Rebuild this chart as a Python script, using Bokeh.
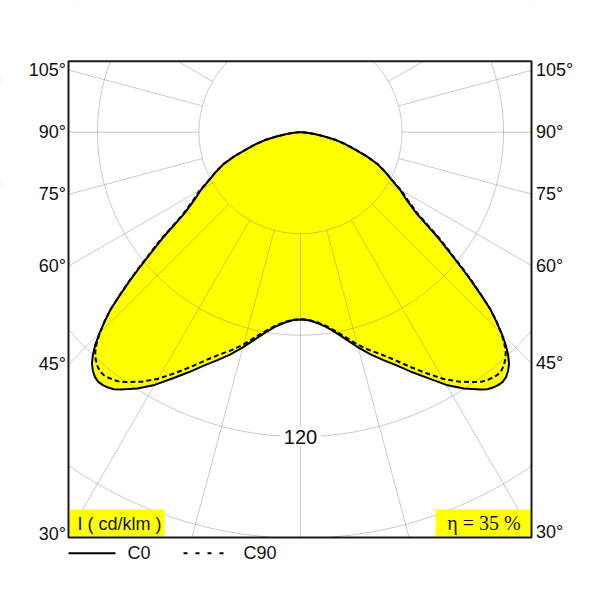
import numpy as np
from bokeh.plotting import figure
from bokeh.models import Range1d
from bokeh.core.properties import value
from bokeh.embed import file_html
from bokeh.resources import INLINE

# ---------------- data ----------------
gamma_deg = [0, 2.5, 5, 7.5, 10, 12.5, 15, 17.5, 20, 22.5, 25, 27.5, 30, 32.5,
             35, 36, 37, 38, 39, 40, 41, 42, 43, 44, 45, 46, 47, 48, 49, 50,
             52.5, 55, 57.5, 60, 62.5, 65, 67.5, 70, 72.5, 75, 77.5, 80, 82.5,
             85, 87.5, 90]
c0_cdklm = [73.8, 74.2, 75.5, 77.4, 80.2, 83.7, 87.8, 91.8, 95.6, 99.6, 104.4,
            109.4, 115.0, 119.8, 123.8, 125.2, 126.0, 126.5, 126.6, 126.0, 124.7,
            122.8, 120.0, 116.4, 112.0, 107.2, 102.2, 95.5, 89.0, 82.5,
            68.5, 55.8, 49.5, 45.2, 40.3, 36.6, 32.8, 27.8, 22.4, 18.4, 14.3,
            9.3, 5.5, 2.6, 0.8, 0.0]
c90_cdklm = [73.6, 74.0, 75.2, 77.0, 79.6, 82.8, 86.6, 90.0, 93.2, 97.2, 102.0,
             107.0, 112.2, 116.6, 120.2, 121.5, 122.3, 122.8, 123.2, 123.0, 122.0,
             120.6, 118.6, 115.6, 111.8, 107.4, 102.3, 95.8, 89.5, 83.2,
             69.5, 56.8, 50.3, 45.8, 40.6, 36.8, 32.9, 27.8, 22.4, 18.4, 14.3,
             9.3, 5.5, 2.6, 0.8, 0.0]
ring_values = [40, 80, 120, 160]
ring_label_value = 120
ray_step_deg = 15
side_angles = [105, 90, 75, 60, 45, 30]
side_labels = ["105°", "90°", "75°", "60°", "45°", "30°"]
series_names = ["C0", "C90"]
unit_text = "I ( cd/klm )"
eff_text = "η = 35 %"

# ---------------- layout (pixel geometry of the page) ----------------
W, H = 600, 599
S = 2.5375           # px per cd/klm
OX, OY = 300.0, 131.7  # pole position in px


def X(px):
    return (px - OX) / S


def Y(py):
    return (OY - py) / S


p = figure(width=W, height=H, output_backend="svg", toolbar_location=None,
           x_range=Range1d(X(0), X(W)), y_range=Range1d(Y(H), Y(0)),
           min_border=0, x_axis_location=None, y_axis_location=None)
p.outline_line_color = None
p.grid.visible = False
p.background_fill_color = "white"
p.border_fill_color = "white"

bx0, bx1, by0, by1 = X(68), X(531), Y(537), Y(60.7)

g = np.radians(np.array(gamma_deg, dtype=float))
i0 = np.array(c0_cdklm, dtype=float)
i90 = np.array(c90_cdklm, dtype=float)


def full_curve(I):
    # left half (C180 side) from 90 down to 0, then right half 0 -> 90
    xl = -I[::-1] * np.sin(g[::-1])
    yl = -I[::-1] * np.cos(g[::-1])
    xr = I[1:] * np.sin(g[1:])
    yr = -I[1:] * np.cos(g[1:])
    return np.concatenate([xl, xr]), np.concatenate([yl, yr])


x0c, y0c = full_curve(i0)
x90c, y90c = full_curve(i90)

# yellow light distribution
p.patch(x0c, y0c, fill_color="#ffff00", line_color=None)

# polar grid
grid_col = "#808080"
grid_alpha = 0.42
t = np.linspace(0, 2 * np.pi, 400)
for r in ring_values:
    p.line(r * np.cos(t), r * np.sin(t), line_color=grid_col, line_alpha=grid_alpha, line_width=1)
ray = np.radians(np.arange(0, 360, ray_step_deg))
rin, rout = ring_values[0], 600.0
p.segment(x0=rin * np.sin(ray), y0=-rin * np.cos(ray), x1=rout * np.sin(ray), y1=-rout * np.cos(ray),
          line_color=grid_col, line_alpha=grid_alpha, line_width=1)

# curves
p.line(x0c, y0c, line_color="black", line_width=2, line_join="round")
p.line(x90c, y90c, line_color="black", line_width=2, line_dash="5 3", line_join="round")

# mask outside the box
big = 1000
p.quad(left=[-big, bx1, bx0, bx0], right=[bx0, big, bx1, bx1],
       bottom=[-big, -big, by1, -big], top=[big, big, big, by0],
       fill_color="white", line_color=None)

# ring label
p.quad(left=[X(280)], right=[X(320)], bottom=[Y(446)], top=[Y(426)],
       fill_color="white", line_color=None)
p.text(x=[0], y=[-ring_label_value], text=[str(ring_label_value)],
       text_align="center", text_baseline="middle",
       text_font=value("Liberation Sans"), text_font_size=value("20px"), text_color="#111111")

# info boxes
p.quad(left=[X(69), X(435)], right=[X(164), X(530)], bottom=[Y(536), Y(536)], top=[Y(509), Y(509)],
       fill_color="#ffff00", line_color=None)
p.text(x=[X(77)], y=[Y(523)], text=[unit_text], text_align="left", text_baseline="middle",
       text_font=value("Liberation Sans"), text_font_size=value("18px"), text_color="#111111")
p.text(x=[X(483.5)], y=[Y(522)], text=[eff_text], text_align="center", text_baseline="middle",
       text_font=value("Liberation Serif"), text_font_size=value("20px"), text_color="#111111")

# frame
p.quad(left=[bx0], right=[bx1], bottom=[by0], top=[by1], fill_color=None,
       line_color="#1a1a1a", line_width=2)

# side angle labels (baseline where each ray meets the frame)
sa = np.radians(np.array(side_angles, dtype=float))
yl = bx0 / np.tan(sa)
yr = -bx1 / np.tan(sa)
p.text(x=[X(65.5)] * len(side_labels), y=list(yl), text=side_labels, text_align="right",
       text_baseline="alphabetic", text_font=value("Liberation Sans"),
       text_font_size=value("18px"), text_color="#111111")
p.text(x=[X(535.5)] * len(side_labels), y=list(yr), text=side_labels, text_align="left",
       text_baseline="alphabetic", text_font=value("Liberation Sans"),
       text_font_size=value("18px"), text_color="#111111")

# legend
ly = Y(552.7)
p.line([X(68), X(115)], [ly, ly], line_color="black", line_width=2)
p.line([X(183), X(224)], [ly, ly], line_color="black", line_width=2, line_dash="4 8")
p.text(x=[X(127), X(243)], y=[ly, ly], text=series_names, text_align="left",
       text_baseline="middle", text_font=value("Liberation Sans"),
       text_font_size=value("18px"), text_color="#111111")

open("out.html", "w").write(file_html(p, INLINE))
